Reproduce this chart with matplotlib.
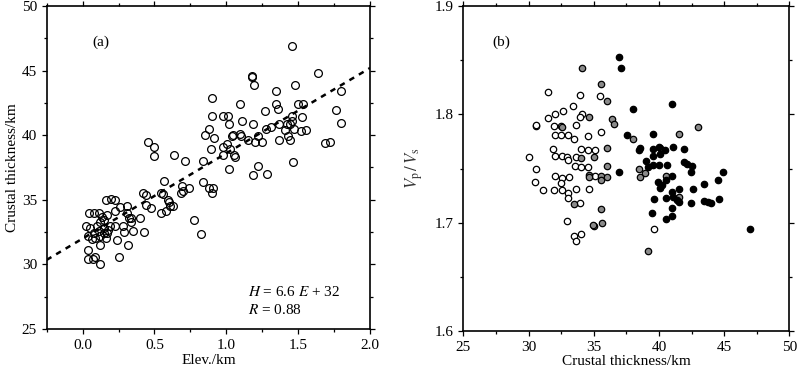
import matplotlib
matplotlib.use('Agg')
import matplotlib.pyplot as plt
from matplotlib.ticker import MultipleLocator
import numpy as np

plt.rcParams['font.family'] = ['Liberation Serif', 'DejaVu Serif']
plt.rcParams['mathtext.fontset'] = 'stix'
plt.rcParams['font.size'] = 11

# panel (a): elevation (km) vs crustal thickness (km)
elev = [1.46, 1.64, 1.18, 1.18, 1.195, 1.345, 1.477, 1.796, 0.899, 1.098,
        1.345, 1.362, 1.498, 1.533, 1.766, 1.269, 0.899, 0.98, 1.015, 1.11,
        1.186, 1.02, 1.454, 1.528, 1.369, 1.42, 1.44, 1.456, 1.796, 0.88,
        0.853, 0.911, 1.047, 1.04, 1.098, 1.10, 1.15, 1.20, 1.22, 1.245,
        1.278, 1.313, 1.37, 1.41, 1.43, 1.445, 1.47, 1.52, 1.553, 1.687,
        1.718, 1.463, 0.978, 1.008, 0.98, 1.024, 1.054, 1.061, 0.892, 0.841,
        1.022, 1.218, 1.186, 1.283, 0.458, 0.497, 0.497, 0.638, 0.71, 0.566,
        0.737, 0.689, 0.682, 0.696, 0.837, 0.879, 0.908, 0.899, 0.418, 0.442,
        0.442, 0.479, 0.546, 0.557, 0.546, 0.578, 0.592, 0.60, 0.608, 0.63,
        0.777, 0.823, 0.428, 0.398, 0.16, 0.20, 0.227, 0.307, 0.257, 0.227,
        0.307, 0.325, 0.34, 0.338, 0.284, 0.291, 0.349, 0.319, 0.238, 0.25,
        0.227, 0.173, 0.168, 0.16, 0.15, 0.122, 0.10, 0.116, 0.134, 0.113,
        0.076, 0.044, 0.025, 0.053, 0.035, 0.065, 0.088, 0.037, 0.037, 0.088,
        0.072, 0.12, 0.122, 0.08, 0.146, 0.15, 0.122, 0.19, 0.18]
thick = [46.9, 44.8, 44.6, 44.5, 43.9, 43.45, 43.9, 43.45, 42.9, 42.4,
         42.4, 42.06, 42.45, 42.45, 41.96, 41.9, 41.5, 41.5, 41.5, 41.1,
         40.9, 40.9, 41.5, 41.4, 40.9, 40.9, 40.9, 41.1, 40.95, 40.5,
         40.0, 39.8, 40.0, 39.9, 40.1, 39.9, 39.6, 39.5, 39.9, 39.45,
         40.5, 40.6, 39.6, 40.4, 39.95, 39.6, 40.45, 40.3, 40.4, 39.4,
         39.5, 37.95, 39.1, 39.3, 38.45, 38.9, 38.5, 38.35, 38.9, 38.0,
         37.4, 37.6, 36.9, 37.0, 39.5, 39.1, 38.4, 38.5, 38.0, 36.45,
         35.9, 36.1, 35.5, 35.65, 36.4, 35.95, 35.95, 35.5, 35.5, 35.35,
         34.6, 34.4, 35.5, 35.45, 34.0, 34.1, 35.0, 34.8, 34.55, 34.55,
         33.45, 32.35, 32.5, 33.6, 35.0, 35.05, 35.0, 34.5, 34.45, 34.1,
         34.0, 33.6, 33.6, 33.25, 32.95, 32.5, 32.55, 31.5, 31.85, 30.6,
         32.95, 33.85, 32.4, 32.05, 33.45, 33.3, 32.95, 32.55, 33.7, 33.95,
         33.95, 34.0, 33.0, 32.8, 32.2, 32.0, 32.05, 31.1, 30.4, 30.55,
         30.45, 30.0, 31.5, 32.4, 32.4, 32.85, 32.2, 32.95, 32.7]

fit_slope = 6.6
fit_icept = 32.0

# panel (b): crustal thickness vs Vp/Vs, three groups
white_h = [31.52, 33.97, 35.48, 33.44, 31.49, 32.0, 32.64, 34.07, 33.95, 30.55,
           30.57, 31.93, 32.52, 32.06, 32.49, 33.05, 33.61, 33.46, 35.58, 34.59,
           31.9, 32.03, 32.59, 32.98, 33.05, 33.61, 34.02, 34.53, 35.07, 33.56,
           34.05, 34.53, 30.06, 30.6, 32.03, 32.54, 32.52, 33.1, 35.07, 30.47,
           31.14, 31.98, 32.54, 33.05, 32.99, 33.61, 34.64, 33.97, 32.95, 33.46,
           33.64, 34.02, 39.62]
white_k = [1.821, 1.818, 1.817, 1.808, 1.797, 1.800, 1.803, 1.800, 1.798, 1.789,
           1.790, 1.789, 1.789, 1.781, 1.781, 1.781, 1.790, 1.777, 1.784, 1.780,
           1.768, 1.762, 1.762, 1.761, 1.758, 1.761, 1.768, 1.767, 1.767, 1.752,
           1.751, 1.751, 1.761, 1.750, 1.743, 1.741, 1.737, 1.742, 1.743, 1.738,
           1.730, 1.730, 1.730, 1.727, 1.723, 1.731, 1.731, 1.718, 1.702, 1.688,
           1.683, 1.690, 1.694]
gray_h = [34.13, 35.56, 36.04, 34.61, 36.43, 36.53, 32.54, 38.04, 41.56, 43.02,
          35.99, 34.05, 35.05, 36.04, 34.64, 34.64, 35.58, 35.58, 35.99, 38.47,
          38.55, 38.96, 40.08, 40.57, 41.56, 33.46, 35.53, 35.66, 35.02, 34.95,
          39.14]
gray_k = [1.843, 1.828, 1.812, 1.798, 1.796, 1.791, 1.788, 1.777, 1.782, 1.788,
          1.769, 1.760, 1.761, 1.752, 1.744, 1.742, 1.743, 1.739, 1.742, 1.750,
          1.742, 1.746, 1.769, 1.743, 1.724, 1.717, 1.713, 1.700, 1.697, 1.698,
          1.674]
black_h = [36.94, 37.12, 38.01, 41.03, 37.55, 36.94, 39.52, 38.45, 38.55, 38.98,
           39.57, 39.57, 39.52, 39.98, 40.08, 40.49, 41.1, 41.95, 40.03, 40.59,
           41.95, 42.13, 42.54, 42.46, 39.16, 39.9, 40.24, 40.11, 40.54, 41.03,
           41.0, 41.51, 41.1, 41.36, 41.51, 42.59, 42.46, 40.52, 39.62, 41.03,
           41.0, 40.54, 39.47, 43.48, 43.48, 43.79, 43.97, 44.53, 44.63, 44.91,
           47.01]
black_k = [1.853, 1.843, 1.805, 1.810, 1.781, 1.747, 1.782, 1.767, 1.769, 1.757,
           1.768, 1.762, 1.753, 1.770, 1.763, 1.767, 1.770, 1.768, 1.753, 1.753,
           1.756, 1.754, 1.752, 1.747, 1.751, 1.738, 1.735, 1.732, 1.739, 1.743,
           1.728, 1.731, 1.724, 1.721, 1.719, 1.731, 1.718, 1.723, 1.722, 1.714,
           1.706, 1.703, 1.709, 1.736, 1.720, 1.719, 1.718, 1.739, 1.722, 1.747,
           1.694]


def style_axes(ax, xmaj, xmin, ymaj, ymin):
    ax.xaxis.set_major_locator(MultipleLocator(xmaj))
    ax.xaxis.set_minor_locator(MultipleLocator(xmin))
    ax.yaxis.set_major_locator(MultipleLocator(ymaj))
    ax.yaxis.set_minor_locator(MultipleLocator(ymin))
    ax.tick_params(which='both', direction='out', top=True, right=True,
                   width=0.9, labelsize=11)
    ax.tick_params(which='major', length=3.5)
    ax.tick_params(which='minor', length=2.5)
    for s in ax.spines.values():
        s.set_linewidth(1.2)


fig = plt.figure(figsize=(7.98, 3.75), dpi=100)

ax1 = fig.add_axes([0.0585, 0.1227, 0.4052, 0.8613])
ax1.plot(elev, thick, 'o', mfc='none', mec='black', ms=5.6, mew=0.9,
         linestyle='none', clip_on=False)
xx = np.array([-0.25, 2.0])
ax1.plot(xx, fit_slope * xx + fit_icept, color='black', lw=1.8,
         dashes=(2.2, 2.2))
ax1.set_xlim(-0.25, 2.0)
ax1.set_ylim(25, 50)
style_axes(ax1, 0.5, 0.25, 5, 2.5)
ax1.xaxis.set_major_formatter(matplotlib.ticker.FormatStrFormatter('%.1f'))
ax1.set_xlabel('Elev./km', labelpad=1.5)
ax1.set_ylabel('Crustal thickness/km', labelpad=2)
ax1.text(0.065, 47.2, '(a)', ha='left', va='center', fontsize=11)
ax1.text(1.15, 27.9, r'$H$ = 6.6 $E$ + 32', ha='left', va='center',
         fontsize=11)
ax1.text(1.15, 26.45, r'$R$ = 0.88', ha='left', va='center', fontsize=11)

ax2 = fig.add_axes([0.5806, 0.117, 0.4085, 0.867])
ax2.plot(white_h, white_k, 'o', mfc='white', mec='black', ms=4.6, mew=0.9,
         linestyle='none')
ax2.plot(gray_h, gray_k, 'o', mfc='#8a8a8a', mec='black', ms=4.6, mew=0.9,
         linestyle='none')
ax2.plot(black_h, black_k, 'o', mfc='black', mec='black', ms=4.6, mew=0.9,
         linestyle='none')
ax2.set_xlim(25, 50)
ax2.set_ylim(1.6, 1.9)
style_axes(ax2, 5, 2.5, 0.1, 0.05)
ax2.yaxis.set_major_formatter(matplotlib.ticker.FormatStrFormatter('%.1f'))
ax2.set_xlabel('Crustal thickness/km', labelpad=1)
ax2.set_ylabel(r'$V_{\mathrm{p}}\,/\,V_{\mathrm{s}}$', labelpad=7,
               color='#333333', fontsize=12)
ax2.text(27.2, 1.867, '(b)', ha='left', va='center', fontsize=11)

fig.savefig('out.png', dpi=100)
